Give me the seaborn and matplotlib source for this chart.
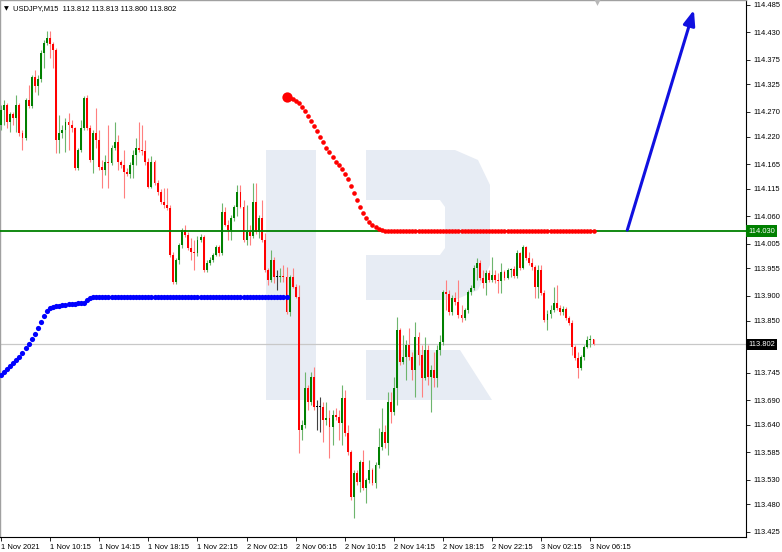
import matplotlib
matplotlib.use("Agg")
import matplotlib.pyplot as plt
import matplotlib.transforms as mtransforms
from matplotlib.patches import Polygon
import numpy as np
import pandas as pd
import seaborn as sns

sns.set_style("white")
plt.rcParams['font.family'] = ['Liberation Sans', 'DejaVu Sans']

# ---------------- data (USDJPY M15) ----------------
opens = [114.243, 114.274, 114.284, 114.250, 114.266, 114.258, 114.284, 114.227, 114.217, 114.294,
         114.282, 114.340, 114.322, 114.336, 114.388, 114.408, 114.419, 114.406, 114.394, 114.213,
         114.227, 114.233, 114.250, 114.243, 114.237, 114.157, 114.193, 114.237, 114.298, 114.237,
         114.173, 114.227, 114.213, 114.159, 114.153, 114.169, 114.167, 114.197, 114.209, 114.169,
         114.163, 114.149, 114.145, 114.163, 114.183, 114.197, 114.193, 114.191, 114.169, 114.119,
         114.169, 114.127, 114.109, 114.089, 114.083, 114.076, 113.982, 113.928, 113.972, 114.002,
         114.032, 114.022, 113.996, 113.988, 113.986, 114.012, 114.018, 113.952, 113.966, 113.972,
         113.982, 113.998, 113.986, 114.068, 114.042, 114.032, 114.056, 114.079, 114.109, 114.079,
         114.012, 114.028, 114.020, 114.089, 114.028, 114.056, 114.012, 113.952, 113.932, 113.972,
         113.938, 113.938, 113.940, 113.938, 113.867, 113.938, 113.918, 113.897, 113.630, 113.640,
         113.714, 113.686, 113.736, 113.676, 113.676, 113.676, 113.650, 113.654, 113.636, 113.660,
         113.656, 113.644, 113.694, 113.624, 113.586, 113.495, 113.543, 113.525, 113.565, 113.513,
         113.529, 113.549, 113.523, 113.559, 113.596, 113.626, 113.604, 113.686, 113.666, 113.714,
         113.831, 113.767, 113.777, 113.801, 113.777, 113.751, 113.817, 113.781, 113.734, 113.791,
         113.736, 113.751, 113.734, 113.791, 113.807, 113.907, 113.903, 113.867, 113.895, 113.887,
         113.861, 113.855, 113.871, 113.907, 113.916, 113.956, 113.966, 113.936, 113.926, 113.946,
         113.932, 113.942, 113.932, 113.930, 113.948, 113.936, 113.952, 113.954, 113.940, 113.986,
         113.956, 113.998, 113.976, 113.966, 113.958, 113.918, 113.952, 113.905, 113.851, 113.863,
         113.871, 113.885, 113.875, 113.867, 113.873, 113.855, 113.845, 113.797, 113.775, 113.755,
         113.777, 113.797, 113.811, 113.812]
highs = [114.284, 114.294, 114.288, 114.270, 114.270, 114.304, 114.288, 114.233, 114.298, 114.324,
         114.344, 114.354, 114.344, 114.394, 114.415, 114.433, 114.433, 114.410, 114.398, 114.264,
         114.243, 114.258, 114.268, 114.254, 114.239, 114.197, 114.254, 114.302, 114.304, 114.243,
         114.233, 114.278, 114.233, 114.173, 114.183, 114.243, 114.203, 114.250, 114.223, 114.173,
         114.193, 114.157, 114.169, 114.193, 114.217, 114.250, 114.243, 114.213, 114.177, 114.181,
         114.173, 114.133, 114.115, 114.117, 114.117, 114.083, 113.988, 113.976, 114.006, 114.036,
         114.042, 114.028, 114.016, 114.012, 114.020, 114.024, 114.022, 113.972, 113.978, 113.986,
         114.002, 114.002, 114.087, 114.079, 114.052, 114.062, 114.083, 114.123, 114.123, 114.093,
         114.083, 114.042, 114.127, 114.127, 114.062, 114.093, 114.026, 113.956, 113.992, 113.978,
         113.952, 113.956, 113.962, 113.958, 113.942, 113.956, 113.924, 113.922, 113.650, 113.747,
         113.720, 113.747, 113.757, 113.690, 113.696, 113.686, 113.686, 113.670, 113.670, 113.674,
         113.670, 113.720, 113.710, 113.640, 113.590, 113.549, 113.549, 113.569, 113.590, 113.533,
         113.569, 113.553, 113.565, 113.634, 113.674, 113.640, 113.706, 113.706, 113.736, 113.857,
         113.835, 113.821, 113.811, 113.835, 113.787, 113.847, 113.827, 113.801, 113.817, 113.801,
         113.761, 113.787, 113.801, 113.821, 113.912, 113.932, 113.912, 113.901, 113.907, 113.932,
         113.881, 113.875, 113.912, 113.922, 113.962, 113.976, 113.972, 113.952, 113.952, 113.952,
         113.978, 113.952, 113.946, 113.966, 113.952, 113.956, 113.956, 113.960, 113.992, 113.988,
         114.002, 114.000, 113.988, 113.976, 113.962, 113.962, 113.962, 113.912, 113.871, 113.881,
         113.918, 113.922, 113.881, 113.879, 113.877, 113.859, 113.851, 113.801, 113.787, 113.781,
         113.801, 113.819, 113.821, 113.813]
lows = [114.233, 114.243, 114.237, 114.229, 114.243, 114.229, 114.221, 114.193, 114.213, 114.278,
        114.278, 114.310, 114.304, 114.330, 114.358, 114.404, 114.378, 114.358, 114.187, 114.187,
        114.217, 114.189, 114.193, 114.229, 114.153, 114.153, 114.189, 114.233, 114.233, 114.169,
        114.147, 114.197, 114.153, 114.117, 114.143, 114.117, 114.163, 114.193, 114.153, 114.157,
        114.097, 114.141, 114.137, 114.137, 114.163, 114.189, 114.183, 114.163, 114.117, 114.117,
        114.123, 114.103, 114.085, 114.076, 114.072, 113.978, 113.924, 113.924, 113.964, 113.996,
        114.018, 113.992, 113.972, 113.952, 113.980, 114.008, 113.948, 113.948, 113.962, 113.968,
        113.980, 113.980, 113.982, 114.040, 114.012, 114.012, 114.050, 114.060, 114.076, 114.008,
        114.002, 114.002, 114.016, 114.024, 114.016, 114.008, 113.948, 113.922, 113.928, 113.926,
        113.912, 113.928, 113.928, 113.863, 113.859, 113.916, 113.895, 113.584, 113.610, 113.634,
        113.670, 113.680, 113.670, 113.630, 113.626, 113.606, 113.640, 113.573, 113.600, 113.650,
        113.610, 113.600, 113.618, 113.580, 113.489, 113.453, 113.519, 113.505, 113.509, 113.483,
        113.523, 113.519, 113.513, 113.553, 113.590, 113.594, 113.580, 113.644, 113.660, 113.680,
        113.761, 113.763, 113.730, 113.771, 113.730, 113.696, 113.761, 113.696, 113.730, 113.720,
        113.666, 113.716, 113.716, 113.781, 113.801, 113.871, 113.861, 113.861, 113.881, 113.855,
        113.847, 113.851, 113.865, 113.901, 113.912, 113.932, 113.932, 113.916, 113.901, 113.928,
        113.928, 113.926, 113.905, 113.905, 113.932, 113.934, 113.938, 113.936, 113.936, 113.952,
        113.954, 113.972, 113.962, 113.952, 113.895, 113.895, 113.901, 113.847, 113.831, 113.855,
        113.867, 113.871, 113.861, 113.861, 113.851, 113.841, 113.781, 113.771, 113.734, 113.751,
        113.771, 113.795, 113.797, 113.800]
closes = [114.274, 114.284, 114.250, 114.266, 114.258, 114.284, 114.227, 114.217, 114.294, 114.282,
          114.340, 114.322, 114.336, 114.388, 114.408, 114.419, 114.406, 114.394, 114.213, 114.227,
          114.233, 114.250, 114.243, 114.237, 114.157, 114.193, 114.237, 114.298, 114.237, 114.173,
          114.227, 114.213, 114.159, 114.153, 114.169, 114.167, 114.197, 114.209, 114.169, 114.163,
          114.149, 114.145, 114.163, 114.183, 114.197, 114.193, 114.191, 114.169, 114.119, 114.169,
          114.127, 114.109, 114.089, 114.083, 114.076, 113.982, 113.928, 113.972, 114.002, 114.032,
          114.022, 113.996, 113.988, 113.986, 114.012, 114.018, 113.952, 113.966, 113.972, 113.982,
          113.998, 113.986, 114.068, 114.042, 114.032, 114.056, 114.079, 114.109, 114.079, 114.012,
          114.028, 114.020, 114.089, 114.028, 114.056, 114.012, 113.952, 113.932, 113.972, 113.938,
          113.938, 113.940, 113.938, 113.867, 113.938, 113.918, 113.897, 113.630, 113.640, 113.714,
          113.686, 113.736, 113.676, 113.676, 113.676, 113.650, 113.654, 113.636, 113.660, 113.656,
          113.644, 113.694, 113.624, 113.586, 113.495, 113.543, 113.525, 113.565, 113.513, 113.529,
          113.549, 113.523, 113.559, 113.596, 113.626, 113.604, 113.686, 113.666, 113.714, 113.831,
          113.767, 113.777, 113.801, 113.777, 113.751, 113.817, 113.781, 113.734, 113.791, 113.736,
          113.751, 113.734, 113.791, 113.807, 113.907, 113.903, 113.867, 113.895, 113.887, 113.861,
          113.855, 113.871, 113.907, 113.916, 113.956, 113.966, 113.936, 113.926, 113.946, 113.932,
          113.942, 113.932, 113.930, 113.948, 113.936, 113.952, 113.954, 113.940, 113.986, 113.956,
          113.998, 113.976, 113.966, 113.958, 113.918, 113.952, 113.905, 113.851, 113.863, 113.871,
          113.885, 113.875, 113.867, 113.873, 113.855, 113.845, 113.797, 113.775, 113.755, 113.777,
          113.797, 113.811, 113.812, 113.802]

time_labels = ["1 Nov 2021", "1 Nov 10:15", "1 Nov 14:15", "1 Nov 18:15", "1 Nov 22:15",
               "2 Nov 02:15", "2 Nov 06:15", "2 Nov 10:15", "2 Nov 14:15", "2 Nov 18:15",
               "2 Nov 22:15", "3 Nov 02:15", "3 Nov 06:15"]
label_bars = [0, 16, 32, 48, 64, 80, 96, 112, 128, 144, 160, 176, 192]

price_ticks = [114.485, 114.430, 114.375, 114.325, 114.270, 114.220, 114.165, 114.115, 114.060,
               114.005, 113.955, 113.900, 113.850, 113.795, 113.745, 113.690, 113.640, 113.585,
               113.530, 113.480, 113.425]

# blue trailing dots, bars 0..93
blue_values = [113.740, 113.747, 113.753, 113.759, 113.765, 113.771, 113.777, 113.785, 113.795, 113.803,
               113.813, 113.823, 113.835, 113.847, 113.859, 113.869, 113.875, 113.877, 113.879, 113.879,
               113.881, 113.881, 113.883, 113.883, 113.883, 113.885, 113.885, 113.885, 113.891, 113.895] + [113.897] * 64
# red trailing dots, bars 93..193
red_values = [114.300, 114.298, 114.296, 114.292, 114.288, 114.280, 114.272, 114.262, 114.252, 114.241,
              114.231, 114.219, 114.209, 114.197, 114.189, 114.179, 114.169, 114.163, 114.155, 114.145,
              114.135, 114.121, 114.107, 114.093, 114.079, 114.066, 114.056, 114.048, 114.042, 114.038,
              114.034, 114.032, 114.031] + [114.030] * 68

level_price = 114.030
last_price = 113.802
arrow_from = (204.0, 114.032)
arrow_to = (225.7, 114.475)
header = "USDJPY,M15  113.812 113.813 113.800 113.802"

# ---------------- figure ----------------
W, H = 782, 552
fig = plt.figure(figsize=(W / 100, H / 100), dpi=100)
fig.patch.set_facecolor("white")
plot_right, plot_bottom = 746, 537
ax = fig.add_axes([0, 1 - plot_bottom / H, plot_right / W, plot_bottom / H])
ax.set_facecolor("white")

def fig_px(x, y):
    return (x / W, 1 - y / H)

# watermark logo
wm = "#E7ECF4"
shapes = [
    [(266, 150), (316, 150), (316, 400), (266, 400)],
    [(366, 150), (455, 150), (478, 160), (490, 185), (490, 265), (478, 290), (455, 300), (366, 300),
     (366, 255), (440, 255), (445, 248), (445, 207), (440, 200), (366, 200)],
    [(366, 350), (460, 350), (492, 400), (366, 400)],
]
for s in shapes:
    ax.add_patch(Polygon([fig_px(*p) for p in s], closed=True, transform=fig.transFigure,
                         facecolor=wm, edgecolor="none", zorder=0))

df = pd.DataFrame({"open": opens, "high": highs, "low": lows, "close": closes})
df["bar"] = np.arange(len(df))
up = df["close"] > df["open"]
down = df["close"] < df["open"]
body_col = np.where(up, "#008000", np.where(down, "#FF0000", "#000000"))
wick_col = np.where(up, "#6DB56D", np.where(down, "#FF7F7F", "#404040"))

ax.vlines(df["bar"], df["low"], df["high"], colors=wick_col, linewidth=0.8, zorder=2)
bottom = np.minimum(df["open"], df["close"])
height = np.maximum((df["close"] - df["open"]).abs(), 0.0022)
ax.bar(df["bar"], height, bottom=bottom, width=0.62, color=body_col, linewidth=0, zorder=3)

# levels
ax.axhline(level_price, color="#008000", lw=1.3, zorder=4)
ax.axhline(last_price, color="#C8C8C8", lw=0.9, zorder=1)

# trailing dots
blue_df = pd.DataFrame({"bar": np.arange(len(blue_values)), "price": blue_values})
red_df = pd.DataFrame({"bar": np.arange(93, 93 + len(red_values)), "price": red_values})
sns.scatterplot(data=blue_df, x="bar", y="price", color="#0000FF", s=14, linewidth=0, ax=ax, zorder=5, legend=False)
sns.scatterplot(data=red_df, x="bar", y="price", color="#FF0000", s=11, linewidth=0, ax=ax, zorder=5, legend=False)
ax.scatter([red_df["bar"].iloc[0]], [red_df["price"].iloc[0]], s=55, color="#FF0000", zorder=6, linewidths=0)

# arrow
ax.annotate("", xy=arrow_to, xytext=arrow_from,
            arrowprops=dict(arrowstyle="-|>,head_length=0.9,head_width=0.35", color="#1010E0",
                            lw=2.2, shrinkA=0, shrinkB=0, mutation_scale=10), zorder=7)

ax.set_xlim(-1 / 3.07, (plot_right - 1) / 3.07)
ax.set_ylim(114.495 - 0.002012 * plot_bottom, 114.495)

fs = 5.4
ax.yaxis.tick_right()
ax.set_yticks(price_ticks)
# the 113.795 label sits under the current-price box in the reference
ax.set_yticklabels(["" if abs(v - 113.795) < 1e-6 else f"{v:.3f}" for v in price_ticks])
ax.set_xticks(label_bars)
ax.set_xticklabels(time_labels)
for t in ax.get_xticklabels():
    t.set_horizontalalignment("left")
ax.tick_params(axis="y", which="both", right=True, left=False, length=3, width=0.6, pad=2.5,
               labelsize=fs, colors="black")
ax.tick_params(axis="x", which="both", bottom=True, length=3, width=0.6, pad=2,
               labelsize=fs, colors="black")
ax.set_xlabel("")
ax.set_ylabel("")
for side in ["right", "bottom"]:
    ax.spines[side].set_color("black")
    ax.spines[side].set_linewidth(0.8)
for side in ["left", "top"]:
    ax.spines[side].set_color("#A0A0A0")
    ax.spines[side].set_linewidth(1.0)

trans = mtransforms.blended_transform_factory(ax.transAxes, ax.transData)
ax.text(1.003, level_price, f"{level_price:.3f}", transform=trans, ha="left", va="center",
        fontsize=fs, color="white", zorder=10,
        bbox=dict(boxstyle="square,pad=0.3", facecolor="#008000", edgecolor="none"))
ax.text(1.003, last_price, f"{last_price:.3f}", transform=trans, ha="left", va="center",
        fontsize=fs, color="white", zorder=10,
        bbox=dict(boxstyle="square,pad=0.3", facecolor="black", edgecolor="none"))

# header
fig.text(4 / W, 1 - 9 / H, "\u25BC", fontsize=4.5, va="center", ha="left", color="black",
         family=["DejaVu Sans"])
fig.text(13 / W, 1 - 9 / H, header, fontsize=fs, va="center", ha="left", color="black")
# chart shift marker
ax.scatter([194.0], [114.492], marker="v", s=40, color="#B8B8B8", clip_on=False, zorder=8, linewidths=0)

fig.savefig("out.png", dpi=100, facecolor="white")
